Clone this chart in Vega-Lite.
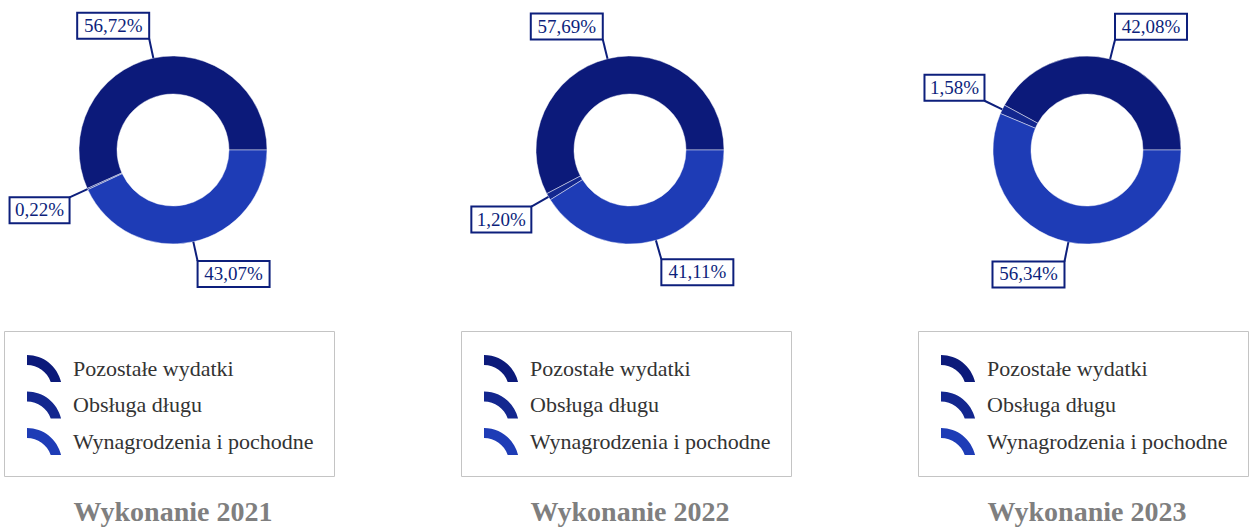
{
  "$schema": "https://vega.github.io/schema/vega-lite/v6.json",
  "padding": 0,
  "background": "#ffffff",
  "spacing": 111,
  "config": {"view": {"stroke": null}, "axis": {"disable": true}},
  "datasets": {
    "d": [
      {"year": 2021, "category": "Pozostałe wydatki", "share": 56.72, "k": 1},
      {"year": 2021, "category": "Obsługa długu", "share": 0.22, "k": 2},
      {"year": 2021, "category": "Wynagrodzenia i pochodne", "share": 43.07, "k": 3},
      {"year": 2022, "category": "Pozostałe wydatki", "share": 57.69, "k": 1},
      {"year": 2022, "category": "Obsługa długu", "share": 1.20, "k": 2},
      {"year": 2022, "category": "Wynagrodzenia i pochodne", "share": 41.11, "k": 3},
      {"year": 2023, "category": "Pozostałe wydatki", "share": 42.08, "k": 1},
      {"year": 2023, "category": "Obsługa długu", "share": 1.58, "k": 2},
      {"year": 2023, "category": "Wynagrodzenia i pochodne", "share": 56.34, "k": 3}
    ]
  },
  "data": {"name": "d"},
  "resolve": {
    "scale": {"color": "independent", "x": "independent", "y": "independent", "theta": "independent"},
    "legend": {"color": "independent"}
  },
  "hconcat": [
    {
      "width": 346, "height": 300,
      "title": {"text": "Wykonanie 2021", "orient": "bottom", "anchor": "middle", "offset": 22, "font": "Liberation Serif", "fontSize": 28, "fontWeight": "bold", "color": "#7f7f7f"},
      "transform": [
        {"filter": "datum.year == 2021"},
        {"joinaggregate": [{"op": "sum", "field": "share", "as": "tot"}]},
        {"window": [{"op": "sum", "field": "share", "as": "cum"}], "sort": [{"field": "k", "order": "ascending"}], "frame": [null, 0]},
        {"calculate": "2*PI*(datum.cum - datum.share/2)/datum.tot", "as": "a"},
        {"calculate": "cos(datum.a)", "as": "x0"},
        {"calculate": "sin(datum.a)", "as": "y0"},
        {"calculate": "1.21*datum.x0", "as": "x1"},
        {"calculate": "1.21*datum.y0", "as": "y1"},
        {"calculate": "replace(format(datum.share, '.2f'), '.', ',') + '%'", "as": "lab"},
        {"calculate": "12*length(datum.lab)/94", "as": "bw"},
        {"calculate": "datum.x0 >= 0 ? 1 : -1", "as": "sx"},
        {"calculate": "datum.y0 >= 0 ? 1 : -1", "as": "sy"},
        {"calculate": "datum.x1 + datum.sx*datum.bw", "as": "bx"},
        {"calculate": "datum.y1 + datum.sy*26/94", "as": "by"},
        {"calculate": "(datum.x1 + datum.bx)/2", "as": "tx"},
        {"calculate": "(datum.y1 + datum.by)/2", "as": "ty"}
      ],
      "layer": [
        {
          "mark": {"type": "arc", "innerRadius": 56, "outerRadius": 94, "stroke": "#ffffff", "strokeWidth": 1, "strokeOpacity": 0.45},
          "encoding": {
            "theta": {"field": "share", "type": "quantitative", "stack": true, "scale": {"range": [1.5708, -4.7124]}},
            "order": {"field": "k", "type": "quantitative"},
            "color": {
              "field": "category", "type": "nominal",
              "scale": {"domain": ["Pozostałe wydatki", "Obsługa długu", "Wynagrodzenia i pochodne"], "range": ["#0c1a7a", "#13278f", "#1e3cb6"]},
              "legend": {"orient": "none", "legendX": 4, "legendY": 331, "title": null, "padding": 20, "strokeColor": "#c4c4c4", "fillColor": "#ffffff", "symbolType": "M-1,-0.77A2,2,0,0,1,0.947,0.773L0.355,0.773A1.43,1.43,0,0,0,-1,-0.2Z", "symbolSize": 1225, "symbolStrokeWidth": 0, "symbolOffset": 3, "labelFont": "Liberation Serif", "labelFontSize": 22, "labelColor": "#333333", "labelOffset": 11, "rowPadding": 4.5, "labelLimit": 400}
            },
            "x": {"datum": 0, "type": "quantitative", "scale": {"domain": [-1.8404, 1.8404], "nice": false, "zero": false}, "axis": null},
            "y": {"datum": 0, "type": "quantitative", "scale": {"domain": [-1.5957, 1.5957], "nice": false, "zero": false}, "axis": null}
          }
        },
        {
          "mark": {"type": "rule", "color": "#0d1f7c", "strokeWidth": 2},
          "encoding": {
            "x": {"field": "x0", "type": "quantitative", "axis": null},
            "y": {"field": "y0", "type": "quantitative", "axis": null},
            "x2": {"field": "x1"},
            "y2": {"field": "y1"}
          }
        },
        {
          "mark": {"type": "rect", "fill": "#ffffff", "stroke": "#0d1f7c", "strokeWidth": 2},
          "encoding": {
            "x": {"field": "x1", "type": "quantitative", "axis": null},
            "x2": {"field": "bx"},
            "y": {"field": "y1", "type": "quantitative", "axis": null},
            "y2": {"field": "by"}
          }
        },
        {
          "mark": {"type": "text", "font": "Liberation Serif", "fontSize": 19, "color": "#0d1f7c", "align": "center", "baseline": "middle"},
          "encoding": {
            "x": {"field": "tx", "type": "quantitative", "axis": null},
            "y": {"field": "ty", "type": "quantitative", "axis": null},
            "text": {"field": "lab"}
          }
        }
      ]
    },
    {
      "width": 346, "height": 300,
      "title": {"text": "Wykonanie 2022", "orient": "bottom", "anchor": "middle", "offset": 22, "font": "Liberation Serif", "fontSize": 28, "fontWeight": "bold", "color": "#7f7f7f"},
      "transform": [
        {"filter": "datum.year == 2022"},
        {"joinaggregate": [{"op": "sum", "field": "share", "as": "tot"}]},
        {"window": [{"op": "sum", "field": "share", "as": "cum"}], "sort": [{"field": "k", "order": "ascending"}], "frame": [null, 0]},
        {"calculate": "2*PI*(datum.cum - datum.share/2)/datum.tot", "as": "a"},
        {"calculate": "cos(datum.a)", "as": "x0"},
        {"calculate": "sin(datum.a)", "as": "y0"},
        {"calculate": "1.21*datum.x0", "as": "x1"},
        {"calculate": "1.21*datum.y0", "as": "y1"},
        {"calculate": "replace(format(datum.share, '.2f'), '.', ',') + '%'", "as": "lab"},
        {"calculate": "12*length(datum.lab)/94", "as": "bw"},
        {"calculate": "datum.x0 >= 0 ? 1 : -1", "as": "sx"},
        {"calculate": "datum.y0 >= 0 ? 1 : -1", "as": "sy"},
        {"calculate": "datum.x1 + datum.sx*datum.bw", "as": "bx"},
        {"calculate": "datum.y1 + datum.sy*26/94", "as": "by"},
        {"calculate": "(datum.x1 + datum.bx)/2", "as": "tx"},
        {"calculate": "(datum.y1 + datum.by)/2", "as": "ty"}
      ],
      "layer": [
        {
          "mark": {"type": "arc", "innerRadius": 56, "outerRadius": 94, "stroke": "#ffffff", "strokeWidth": 1, "strokeOpacity": 0.45},
          "encoding": {
            "theta": {"field": "share", "type": "quantitative", "stack": true, "scale": {"range": [1.5708, -4.7124]}},
            "order": {"field": "k", "type": "quantitative"},
            "color": {
              "field": "category", "type": "nominal",
              "scale": {"domain": ["Pozostałe wydatki", "Obsługa długu", "Wynagrodzenia i pochodne"], "range": ["#0c1a7a", "#13278f", "#1e3cb6"]},
              "legend": {"orient": "none", "legendX": 4, "legendY": 331, "title": null, "padding": 20, "strokeColor": "#c4c4c4", "fillColor": "#ffffff", "symbolType": "M-1,-0.77A2,2,0,0,1,0.947,0.773L0.355,0.773A1.43,1.43,0,0,0,-1,-0.2Z", "symbolSize": 1225, "symbolStrokeWidth": 0, "symbolOffset": 3, "labelFont": "Liberation Serif", "labelFontSize": 22, "labelColor": "#333333", "labelOffset": 11, "rowPadding": 4.5, "labelLimit": 400}
            },
            "x": {"datum": 0, "type": "quantitative", "scale": {"domain": [-1.8404, 1.8404], "nice": false, "zero": false}, "axis": null},
            "y": {"datum": 0, "type": "quantitative", "scale": {"domain": [-1.5957, 1.5957], "nice": false, "zero": false}, "axis": null}
          }
        },
        {
          "mark": {"type": "rule", "color": "#0d1f7c", "strokeWidth": 2},
          "encoding": {
            "x": {"field": "x0", "type": "quantitative", "axis": null},
            "y": {"field": "y0", "type": "quantitative", "axis": null},
            "x2": {"field": "x1"},
            "y2": {"field": "y1"}
          }
        },
        {
          "mark": {"type": "rect", "fill": "#ffffff", "stroke": "#0d1f7c", "strokeWidth": 2},
          "encoding": {
            "x": {"field": "x1", "type": "quantitative", "axis": null},
            "x2": {"field": "bx"},
            "y": {"field": "y1", "type": "quantitative", "axis": null},
            "y2": {"field": "by"}
          }
        },
        {
          "mark": {"type": "text", "font": "Liberation Serif", "fontSize": 19, "color": "#0d1f7c", "align": "center", "baseline": "middle"},
          "encoding": {
            "x": {"field": "tx", "type": "quantitative", "axis": null},
            "y": {"field": "ty", "type": "quantitative", "axis": null},
            "text": {"field": "lab"}
          }
        }
      ]
    },
    {
      "width": 346, "height": 300,
      "title": {"text": "Wykonanie 2023", "orient": "bottom", "anchor": "middle", "offset": 22, "font": "Liberation Serif", "fontSize": 28, "fontWeight": "bold", "color": "#7f7f7f"},
      "transform": [
        {"filter": "datum.year == 2023"},
        {"joinaggregate": [{"op": "sum", "field": "share", "as": "tot"}]},
        {"window": [{"op": "sum", "field": "share", "as": "cum"}], "sort": [{"field": "k", "order": "ascending"}], "frame": [null, 0]},
        {"calculate": "2*PI*(datum.cum - datum.share/2)/datum.tot", "as": "a"},
        {"calculate": "cos(datum.a)", "as": "x0"},
        {"calculate": "sin(datum.a)", "as": "y0"},
        {"calculate": "1.21*datum.x0", "as": "x1"},
        {"calculate": "1.21*datum.y0", "as": "y1"},
        {"calculate": "replace(format(datum.share, '.2f'), '.', ',') + '%'", "as": "lab"},
        {"calculate": "12*length(datum.lab)/94", "as": "bw"},
        {"calculate": "datum.x0 >= 0 ? 1 : -1", "as": "sx"},
        {"calculate": "datum.y0 >= 0 ? 1 : -1", "as": "sy"},
        {"calculate": "datum.x1 + datum.sx*datum.bw", "as": "bx"},
        {"calculate": "datum.y1 + datum.sy*26/94", "as": "by"},
        {"calculate": "(datum.x1 + datum.bx)/2", "as": "tx"},
        {"calculate": "(datum.y1 + datum.by)/2", "as": "ty"}
      ],
      "layer": [
        {
          "mark": {"type": "arc", "innerRadius": 56, "outerRadius": 94, "stroke": "#ffffff", "strokeWidth": 1, "strokeOpacity": 0.45},
          "encoding": {
            "theta": {"field": "share", "type": "quantitative", "stack": true, "scale": {"range": [1.5708, -4.7124]}},
            "order": {"field": "k", "type": "quantitative"},
            "color": {
              "field": "category", "type": "nominal",
              "scale": {"domain": ["Pozostałe wydatki", "Obsługa długu", "Wynagrodzenia i pochodne"], "range": ["#0c1a7a", "#13278f", "#1e3cb6"]},
              "legend": {"orient": "none", "legendX": 4, "legendY": 331, "title": null, "padding": 20, "strokeColor": "#c4c4c4", "fillColor": "#ffffff", "symbolType": "M-1,-0.77A2,2,0,0,1,0.947,0.773L0.355,0.773A1.43,1.43,0,0,0,-1,-0.2Z", "symbolSize": 1225, "symbolStrokeWidth": 0, "symbolOffset": 3, "labelFont": "Liberation Serif", "labelFontSize": 22, "labelColor": "#333333", "labelOffset": 11, "rowPadding": 4.5, "labelLimit": 400}
            },
            "x": {"datum": 0, "type": "quantitative", "scale": {"domain": [-1.8404, 1.8404], "nice": false, "zero": false}, "axis": null},
            "y": {"datum": 0, "type": "quantitative", "scale": {"domain": [-1.5957, 1.5957], "nice": false, "zero": false}, "axis": null}
          }
        },
        {
          "mark": {"type": "rule", "color": "#0d1f7c", "strokeWidth": 2},
          "encoding": {
            "x": {"field": "x0", "type": "quantitative", "axis": null},
            "y": {"field": "y0", "type": "quantitative", "axis": null},
            "x2": {"field": "x1"},
            "y2": {"field": "y1"}
          }
        },
        {
          "mark": {"type": "rect", "fill": "#ffffff", "stroke": "#0d1f7c", "strokeWidth": 2},
          "encoding": {
            "x": {"field": "x1", "type": "quantitative", "axis": null},
            "x2": {"field": "bx"},
            "y": {"field": "y1", "type": "quantitative", "axis": null},
            "y2": {"field": "by"}
          }
        },
        {
          "mark": {"type": "text", "font": "Liberation Serif", "fontSize": 19, "color": "#0d1f7c", "align": "center", "baseline": "middle"},
          "encoding": {
            "x": {"field": "tx", "type": "quantitative", "axis": null},
            "y": {"field": "ty", "type": "quantitative", "axis": null},
            "text": {"field": "lab"}
          }
        }
      ]
    }
  ]
}
